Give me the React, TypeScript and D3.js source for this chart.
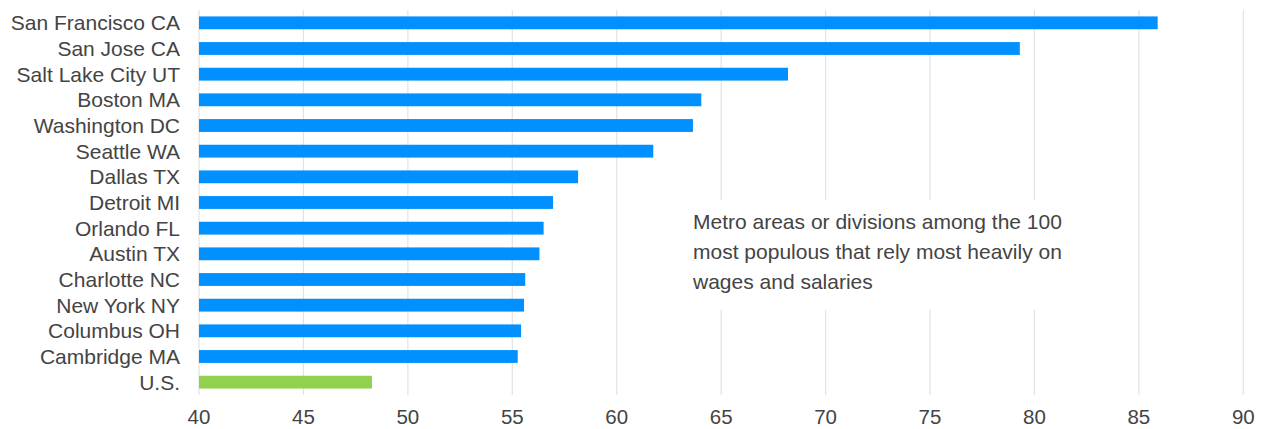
import React from "react";
import * as d3 from "d3";

const categories = [
  "San Francisco CA",
  "San Jose CA",
  "Salt Lake City UT",
  "Boston MA",
  "Washington DC",
  "Seattle WA",
  "Dallas TX",
  "Detroit MI",
  "Orlando FL",
  "Austin TX",
  "Charlotte NC",
  "New York NY",
  "Columbus OH",
  "Cambridge MA",
  "U.S.",
];

const values = [85.9, 79.3, 68.2, 64.05, 63.65, 61.75, 58.15, 56.95, 56.5, 56.3, 55.62, 55.56, 55.42, 55.26, 48.28];

const xTicks = [40, 45, 50, 55, 60, 65, 70, 75, 80, 85, 90];

const noteLines = [
  "Metro areas or divisions among the 100",
  "most populous that rely most heavily on",
  "wages and salaries",
];

const WIDTH = 1265;
const HEIGHT = 429;
const FONT = "'Liberation Sans', Arial, sans-serif";
const TEXT = "#444444";
const BLUE = "#0090ff";
const GREEN = "#92d050";
const GRID = "#e3e3e3";

export default function App() {
  const x = d3.scaleLinear().domain([40, 90]).range([199, 1243.3]);
  const y = d3
    .scaleBand<string>()
    .domain(categories)
    .range([10, 395])
    .paddingInner(0.5)
    .paddingOuter(0.25);

  return (
    <svg
      width={WIDTH}
      height={HEIGHT}
      style={{ position: "absolute", left: 0, top: 0, display: "block", background: "#fff" }}
      fontFamily={FONT}
    >
      {/* gridlines */}
      {xTicks.map((t) => (
        <line key={"g" + t} x1={x(t)} x2={x(t)} y1={10} y2={395} stroke={GRID} strokeWidth={1.2} />
      ))}
      {/* annotation background */}
      <rect x={680} y={200} width={410} height={110} fill="#fff" />
      {/* bars */}
      {categories.map((c, i) => (
        <rect
          key={c}
          x={x(40)}
          y={y(c)}
          width={x(values[i]) - x(40)}
          height={y.bandwidth()}
          fill={c === "U.S." ? GREEN : BLUE}
        />
      ))}
      {/* category labels */}
      {categories.map((c) => (
        <text
          key={"l" + c}
          x={180}
          y={(y(c) as number) + y.bandwidth() / 2}
          dy="0.35em"
          textAnchor="end"
          fontSize={21}
          fill={TEXT}
        >
          {c}
        </text>
      ))}
      {/* x tick labels */}
      {xTicks.map((t) => (
        <text key={"t" + t} x={x(t)} y={424} textAnchor="middle" fontSize={20.5} fill={TEXT}>
          {t}
        </text>
      ))}
      {/* annotation */}
      {noteLines.map((l, i) => (
        <text key={"n" + i} x={693} y={229.3 + i * 30} fontSize={21} fill={TEXT}>
          {l}
        </text>
      ))}
    </svg>
  );
}
